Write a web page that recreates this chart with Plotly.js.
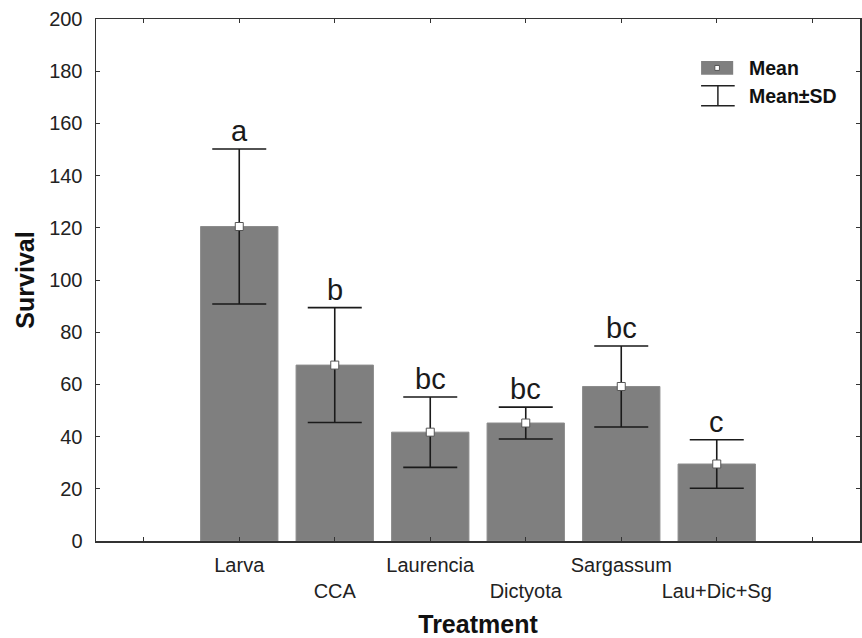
<!DOCTYPE html>
<html>
<head>
<meta charset="utf-8">
<script src="https://cdn.plot.ly/plotly-3.0.1.min.js"></script>
<style>html,body{margin:0;padding:0;background:#fff;}#chart{width:862px;height:638px;}</style>
</head>
<body>
<div id="chart"></div>
<script>
const categories = ["Larva", "CCA", "Laurencia", "Dictyota", "Sargassum", "Lau+Dic+Sg"];
const means = [120.5, 67.4, 41.7, 45.2, 59.2, 29.5];
const sds = [29.7, 22.0, 13.5, 6.1, 15.5, 9.3];
const letters = ["a", "b", "bc", "bc", "bc", "c"];
const yTicks = [0, 20, 40, 60, 80, 100, 120, 140, 160, 180, 200];

const FONT = "Arial, 'Liberation Sans', sans-serif";
const xpos = categories.map((c, i) => i + 1);
const tickvals = [0].concat(xpos, [categories.length + 1]);
const ticktext = [""].concat(categories.map((c, i) => (i % 2 === 1 ? "<br>" + c : c)), [""]);

const bars = {
  type: "bar",
  x: xpos,
  y: means,
  width: 0.81,
  marker: {color: "#7f7f7f", line: {color: "#8c8c8c", width: 1}},
  error_y: {type: "data", array: sds, visible: true, color: "#1a1a1a", thickness: 1.6, width: 27},
  hoverinfo: "skip",
  showlegend: false
};
const meanPts = {
  type: "scatter",
  mode: "markers",
  x: xpos,
  y: means,
  marker: {symbol: "square", size: 8, color: "#ffffff", line: {color: "#555555", width: 1}},
  hoverinfo: "skip",
  showlegend: false
};

const annotations = categories.map((c, i) => ({
  x: xpos[i], y: means[i] + sds[i], xref: "x", yref: "y",
  text: letters[i], showarrow: false, yanchor: "bottom", yshift: 0,
  font: {family: FONT, size: 29, color: "#1a1a1a"}
}));

// Legend (drawn manually)
annotations.push({x: 0.852, y: 0.907, xref: "paper", yref: "paper", xanchor: "left", yanchor: "middle",
  text: "<b>Mean</b>", showarrow: false, font: {family: FONT, size: 19.5, color: "#111"}});
annotations.push({x: 0.852, y: 0.853, xref: "paper", yref: "paper", xanchor: "left", yanchor: "middle",
  text: "<b>Mean±SD</b>", showarrow: false, font: {family: FONT, size: 19.5, color: "#111"}});

const shapes = [
  {type: "rect", xref: "paper", yref: "paper", x0: 0.792, x1: 0.834, y0: 0.893, y1: 0.9195,
    fillcolor: "#7f7f7f", line: {width: 0}},
  {type: "rect", xref: "paper", yref: "paper", x0: 0.810, x1: 0.816, y0: 0.9015, y1: 0.911,
    fillcolor: "#ffffff", line: {color: "#555", width: 1}},
  {type: "line", xref: "paper", yref: "paper", x0: 0.792, x1: 0.836, y0: 0.872, y1: 0.872, line: {color: "#222", width: 1.5}},
  {type: "line", xref: "paper", yref: "paper", x0: 0.792, x1: 0.836, y0: 0.834, y1: 0.834, line: {color: "#222", width: 1.5}},
  {type: "line", xref: "paper", yref: "paper", x0: 0.814, x1: 0.814, y0: 0.834, y1: 0.872, line: {color: "#222", width: 1.5}}
];

const layout = {
  width: 862, height: 638,
  margin: {l: 96, r: 2, t: 19, b: 97},
  paper_bgcolor: "#ffffff", plot_bgcolor: "#ffffff",
  font: {family: FONT, size: 20, color: "#222"},
  bargap: 0,
  xaxis: {
    range: [-0.5, categories.length + 1.5],
    tickmode: "array", tickvals: tickvals, ticktext: ticktext, tickangle: 0,
    ticks: "inside", ticklen: 4, tickcolor: "#333", tickwidth: 1,
    showline: true, linecolor: "#333", linewidth: 1.5, mirror: "ticks",
    showgrid: false, zeroline: false,
    tickfont: {family: FONT, size: 20, color: "#222"},
    ticklabelstandoff: 5,
    title: {text: "<b>Treatment</b>", font: {family: FONT, size: 25, color: "#111"}, standoff: 21}
  },
  yaxis: {
    range: [0, 200],
    tickmode: "array", tickvals: yTicks,
    ticks: "inside", ticklen: 4, tickcolor: "#333", tickwidth: 1,
    showline: true, linecolor: "#333", linewidth: 1.5, mirror: "ticks",
    showgrid: false, zeroline: false,
    tickfont: {family: FONT, size: 20, color: "#222"},
    ticklabelstandoff: 8,
    title: {text: "<b>Survival</b>", font: {family: FONT, size: 25, color: "#111"}, standoff: 7}
  },
  annotations: annotations,
  shapes: shapes,
  showlegend: false
};

Plotly.newPlot("chart", [bars, meanPts], layout, {displayModeBar: false, staticPlot: true});
</script>
</body>
</html>
